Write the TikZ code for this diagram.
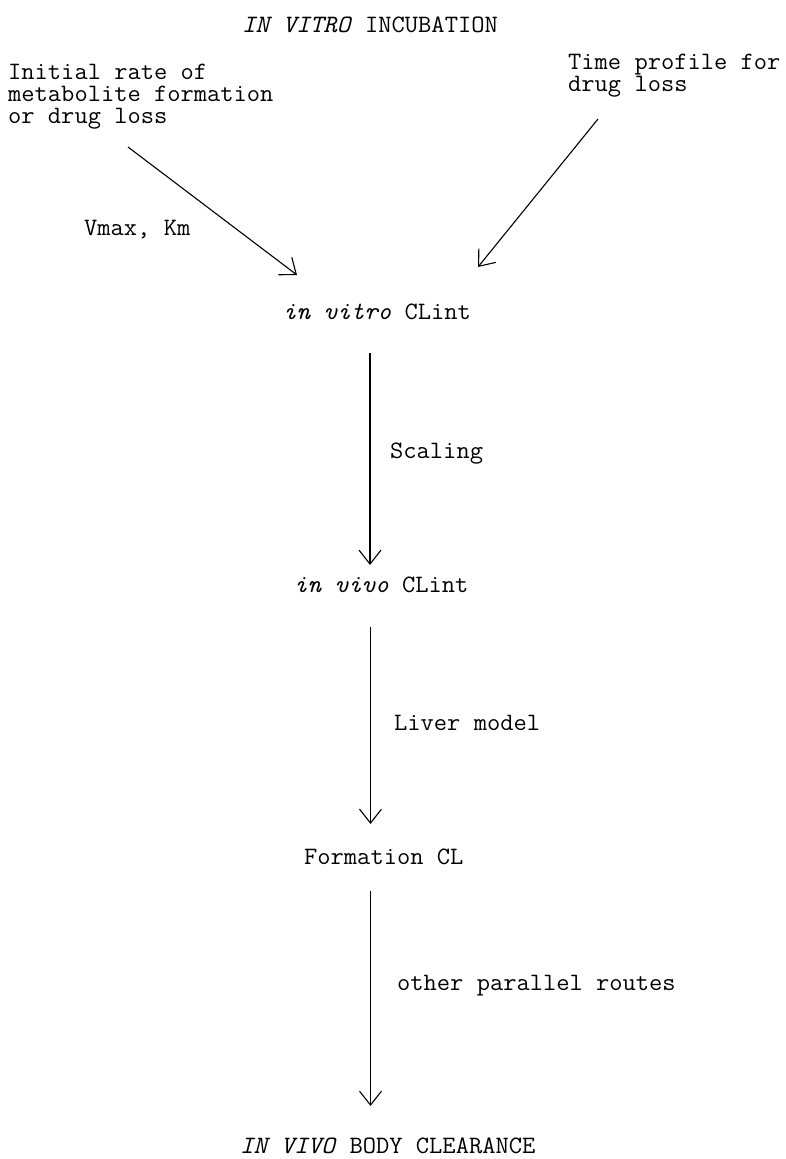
\documentclass[tikz,border=0pt]{standalone}
\usepackage{fontspec}
\setmonofont[FakeStretch=1.03]{Latin Modern Mono}
\usetikzlibrary{arrows.meta}
\tikzset{
  txt/.style={font=\fontsize{25}{22}\selectfont\ttfamily, inner sep=0pt, anchor=base west, text=black},
  arr/.style={line width=1.1pt, draw=black, -{Straight Barb[length=14pt,width=22pt,line width=1.1pt]}}
}
\begin{document}
\begin{tikzpicture}[x=1pt,y=-1pt]
\useasboundingbox (0,0) rectangle (785,1159);
\node[txt] (title) at (242,32) {\textit{IN VITRO} INCUBATION};
\node[txt] (ini1) at (8,79) {Initial rate of};
\node[txt] (ini2) at (8,101) {metabolite formation};
\node[txt] (ini3) at (8,123) {or drug loss};
\node[txt] (tim1) at (568,69) {Time profile for};
\node[txt] (tim2) at (568,91) {drug loss};
\node[txt] (vk) at (84,235) {Vmax, Km};
\node[txt] (vitro) at (283,319) {\textit{in vitro} CLint};
\node[txt] (scal) at (390,458) {Scaling};
\node[txt] (vivo) at (294,592) {\textit{in vivo} CLint};
\node[txt] (liver) at (394,730) {Liver model};
\node[txt] (form) at (304,864) {Formation CL};
\node[txt] (other) at (397,990) {other parallel routes};
\node[txt] (body) at (240,1153) {\textit{IN VIVO} BODY CLEARANCE};
\coordinate (l1) at (128,147);
\coordinate (l2) at (297,275);
\coordinate (r1) at (598,119);
\coordinate (r2) at (478,267);
\coordinate (v1a) at (370,353);
\coordinate (v1b) at (370,565);
\coordinate (v2a) at (370.5,627);
\coordinate (v2b) at (370.5,824);
\coordinate (v3a) at (370.5,891);
\coordinate (v3b) at (370.5,1106);
\draw[arr] (l1) -- (l2);
\draw[arr] (r1) -- (r2);
\draw[arr] (v1a) -- (v1b);
\draw[arr] (v2a) -- (v2b);
\draw[arr] (v3a) -- (v3b);
\end{tikzpicture}
\end{document}
